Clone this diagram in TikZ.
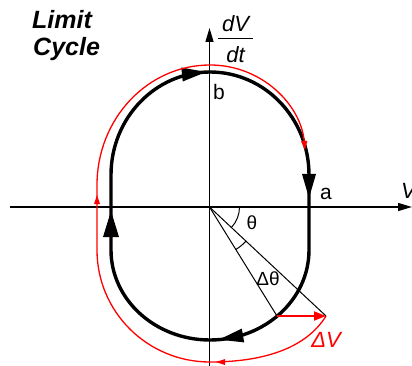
\documentclass[tikz,border=0pt]{standalone}
\usepackage{fontspec}
\setmainfont{Liberation Sans}
\usetikzlibrary{arrows.meta}
\begin{document}
\begin{tikzpicture}[x=1pt,y=-1pt,
  axisline/.style={line width=1.3pt,-{Triangle[length=14pt,width=8pt]}},
  cycleline/.style={line width=3.4pt},
  redline/.style={red, line width=1.3pt},
  thinline/.style={line width=1pt},
  lbl/.style={inner sep=0pt, font=\fontsize{21}{24}\selectfont},
  title/.style={inner sep=0pt, anchor=base west, font=\fontsize{25}{28}\selectfont\bfseries\itshape}]
\useasboundingbox (0,0) rectangle (412,366);
\fill[white] (0,0) rectangle (412,366);
\coordinate (O) at (209.5,207);
% axes
\draw[axisline] (10,207) -- (412,207);
\draw[axisline] (209.5,366) -- (209.5,28);
% limit cycle
\draw[cycleline] (111,175) arc[start angle=180,end angle=360,x radius=99,y radius=103]
  -- (309,250) arc[start angle=0,end angle=180,x radius=99,y radius=90] -- cycle;
\fill (206,72) -- (181.3,67.5) -- (182.7,81.5) -- cycle;
\fill (309,198) -- (302,174) -- (316,174) -- cycle;
\fill (111,211) -- (103,237) -- (119,237) -- cycle;
\fill (219,339.6) -- (244.2,342.4) -- (241.8,328.6) -- cycle;
% perturbed trajectory
\coordinate (P) at (277,316);
\coordinate (Q) at (326,316);
\draw[redline,-{Triangle[length=9pt,width=6pt]}] (Q) .. controls (305,350) and (260,362) .. (210,362)
  .. controls (147.6,362) and (97,312) .. (97,250) -- (97,185)
  .. controls (97,118.8) and (147.6,65) .. (210,65)
  .. controls (262,65) and (301,105) .. (305,150);
\fill[red] (216,362) -- (225,359) -- (225,365) -- cycle;
\fill[red] (97,195) -- (94,204) -- (100,204) -- cycle;
% angle lines
\draw[thinline] (O) -- (P);
\draw[thinline] (O) -- (Q);
\draw[thinline] ([shift={(0:30)}]O) arc[start angle=0,end angle=43.1,radius=30];
\draw[thinline] ([shift={(43.1:50)}]O) arc[start angle=43.1,end angle=58.2,radius=50];
\draw[red, line width=1.8pt, -{Triangle[length=12pt,width=9pt]}] (P) -- (Q);
% labels
\node[title] (t1) at (32,29) {Limit};
\node[title] (t2) at (33,56) {Cycle};
\node[lbl, anchor=base, font=\fontsize{22}{24}\selectfont\itshape] (dv) at (235.5,32) {dV};
\node[lbl, anchor=base, font=\fontsize{22}{24}\selectfont\itshape] (dt) at (235.5,63) {dt};
\draw[line width=1.2pt] (218,38.5) -- (253,38.5);
\node[lbl, anchor=base west] (b) at (213,100) {b};
\node[lbl, anchor=base west] (a) at (320,200) {a};
\node[lbl, font=\fontsize{19}{22}\selectfont] (th) at (252,223) {θ};
\node[lbl, font=\fontsize{19}{22}\selectfont] (dth) at (268,279) {Δθ};
\node[lbl, red, font=\fontsize{22}{24}\selectfont\itshape] (dV) at (326,340) {ΔV};
\node[lbl, anchor=base west, font=\fontsize{22}{24}\selectfont\itshape] (V) at (401,198) {V};
\end{tikzpicture}
\end{document}
